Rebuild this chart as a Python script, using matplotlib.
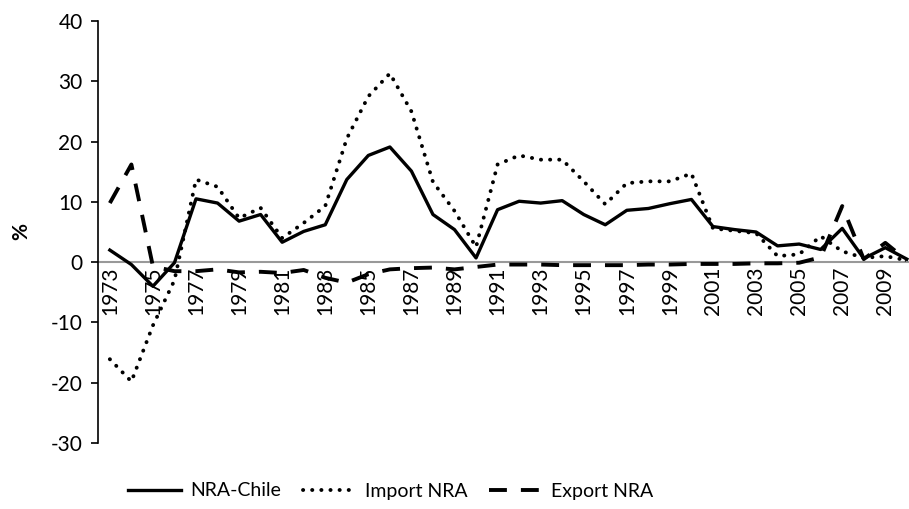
import numpy as np
import matplotlib
matplotlib.use('Agg')
import matplotlib.pyplot as plt

plt.rcParams['font.family'] = ['Lato', 'DejaVu Sans']
plt.rcParams['axes.unicode_minus'] = False

years = list(range(1973, 2011))

nra_chile = [2.0, -0.4, -4.0, -0.1, 10.5, 9.8, 6.8, 7.9, 3.3, 5.1,
             6.2, 13.7, 17.7, 19.1, 15.1, 7.9, 5.4, 0.7, 8.7, 10.1,
             9.8, 10.2, 7.9, 6.2, 8.6, 8.9, 9.7, 10.4, 5.9, 5.4,
             5.0, 2.7, 3.0, 2.1, 5.6, 0.6, 2.4, 0.5]

import_nra = [-16.1, -19.8, -10.5, -3.0, 13.7, 12.5, 7.3, 9.0, 4.0, 6.5,
              9.3, 20.5, 27.5, 31.3, 25.0, 13.3, 8.5, 2.5, 16.2, 17.7,
              17.0, 17.0, 13.4, 9.6, 13.1, 13.4, 13.4, 14.7, 5.6, 5.2,
              4.8, 1.0, 1.3, 4.3, 1.8, 0.7, 1.0, 0.3]

export_nra = [9.8, 16.2, -0.7, -1.5, -1.5, -1.2, -1.7, -1.6, -1.8, -1.3,
              -2.6, -3.4, -2.0, -1.2, -1.0, -0.9, -1.2, -0.8, -0.4, -0.4,
              -0.4, -0.5, -0.5, -0.5, -0.5, -0.4, -0.4, -0.3, -0.3, -0.3,
              -0.2, -0.2, -0.1, 0.8, 9.3, 0.5, 3.2, 0.3]

tick_years = years[::2]

fig = plt.figure(figsize=(9.09, 5.09), dpi=100)
ax = fig.add_axes([98 / 909, 1 - 443 / 509, 811 / 909, 422 / 509])

ax.spines['top'].set_visible(False)
ax.spines['right'].set_visible(False)
ax.spines['bottom'].set_position(('data', 0))
ax.spines['bottom'].set_color('#999999')
ax.spines['bottom'].set_linewidth(1.5)
ax.spines['bottom'].set_zorder(0)
ax.spines['left'].set_linewidth(1.2)

ax.plot(years, nra_chile, color='black', lw=2.4, label='NRA-Chile')
ax.plot(years, import_nra, color='black', lw=2.8, linestyle=(0, (0.05, 2.3)),
        dash_capstyle='round', label='Import NRA')
ax.plot(years, export_nra, color='black', lw=2.8, linestyle=(0, (4.6, 3.6)),
        label='Export NRA')

ax.set_xlim(1972.45, 2010.1)
ax.set_ylim(-30, 40)
ax.set_yticks(range(-30, 41, 10))
ax.tick_params(axis='y', labelsize=15, length=5, width=1.2, pad=6)

ax.set_xticks(tick_years)
ax.set_xticklabels([str(y) for y in tick_years], rotation=90, fontsize=15)
ax.tick_params(axis='x', length=0, pad=3)

ax.set_ylabel('%', fontsize=15, fontweight='bold', labelpad=14)

leg = fig.legend(loc='center', bbox_to_anchor=(391 / 909, 1 - 491 / 509),
                 ncol=3, frameon=False, fontsize=14, handlelength=2.7,
                 columnspacing=1.1, handletextpad=0.5)

fig.savefig('out.png', dpi=100)
